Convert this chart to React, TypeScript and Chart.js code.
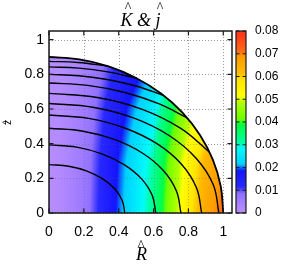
import React, { useEffect, useRef } from 'react';
import { Chart, registerables } from 'chart.js';

Chart.register(...registerables);

// ---------- data ----------
const xTicks = [0, 0.2, 0.4, 0.6, 0.8, 1];
const yTicks = [0, 0.2, 0.4, 0.6, 0.8, 1];
const cbTicks = [0, 0.01, 0.02, 0.03, 0.04, 0.05, 0.06, 0.07, 0.08];

const kR = [0, 0.1, 0.2, 0.3, 0.4, 0.5, 0.6, 0.7, 0.8, 0.9, 1.0];
const kZ = [0, 0.3, 0.6, 0.9];
const kAtZ00 = [0.0003, 0.003, 0.0065, 0.0125, 0.0198, 0.026, 0.0328, 0.045, 0.057, 0.066, 0.072];
const kAtZ03 = [0.0003, 0.0029, 0.0062, 0.0119, 0.0189, 0.0248, 0.0313, 0.043, 0.0544, 0.063, 0.0688];
const kAtZ06 = [0.0002, 0.0025, 0.0053, 0.0103, 0.0162, 0.0213, 0.0269, 0.0369, 0.0467, 0.0541, 0.059];
const kAtZ09 = [0.0002, 0.0018, 0.0039, 0.0074, 0.0118, 0.0155, 0.0195, 0.0268, 0.0339, 0.0393, 0.0428];

// surface boundary (R, z)
const boundary = [[0, 0.9], [0.174, 0.886], [0.342, 0.846], [0.5, 0.779], [0.643, 0.689], [0.766, 0.579], [0.866, 0.45], [0.94, 0.308], [0.985, 0.156], [1, 0]];

// j-hat contour lines (R, z)
const contour1 = [[0, 0.279], [0.113, 0.27], [0.218, 0.242], [0.308, 0.197], [0.377, 0.14], [0.42, 0.072], [0.435, 0]];
const contour2 = [[0, 0.393], [0.159, 0.38], [0.307, 0.34], [0.433, 0.278], [0.531, 0.197], [0.592, 0.102], [0.613, 0]];
const contour3 = [[0, 0.489], [0.196, 0.472], [0.379, 0.423], [0.535, 0.346], [0.656, 0.245], [0.731, 0.127], [0.757, 0]];
const contour4 = [[0, 0.565], [0.227, 0.546], [0.438, 0.489], [0.619, 0.4], [0.759, 0.283], [0.846, 0.146], [0.876, 0]];
const contour5 = [[0, 0.632], [0.252, 0.61], [0.488, 0.547], [0.689, 0.447], [0.844, 0.316], [0.942, 0.164], [0.975, 0]];
const contour6 = [[0, 0.69], [0.277, 0.666], [0.535, 0.598], [0.756, 0.488], [0.921, 0.351]];
const contour7 = [[0, 0.75], [0.222, 0.736], [0.435, 0.695], [0.633, 0.629], [0.793, 0.549]];
const contour8 = [[0, 0.8], [0.173, 0.792], [0.342, 0.769], [0.504, 0.731], [0.657, 0.678]];
const contour9 = [[0, 0.843], [0.171, 0.836], [0.338, 0.814], [0.502, 0.778]];
const contour10 = [[0, 0.875], [0.165, 0.868], [0.336, 0.848]];
const contours = [contour1, contour2, contour3, contour4, contour5, contour6, contour7, contour8, contour9, contour10];

// palette: colour at the bottom and top of each 0.01 band
const bandBottom = ['#b48cff', '#2828ff', '#00d0ff', '#00ff98', '#70ff00', '#ffff00', '#ffbc00', '#ff6818'];
const bandTop = ['#9070ff', '#1414ff', '#00fcf8', '#00ff44', '#b0ff00', '#ffe600', '#ff9c00', '#ff3818'];

// ---------- helpers ----------
function hexToRgb(h: string): number[] {
  const n = parseInt(h.slice(1), 16);
  return [(n >> 16) & 255, (n >> 8) & 255, n & 255];
}
const stops: { v: number; c: number[] }[] = [];
for (let i = 0; i < bandBottom.length; i++) {
  const lo = cbTicks[i];
  const hi = cbTicks[i + 1];
  stops.push({ v: lo + 0.15 * (hi - lo), c: hexToRgb(bandBottom[i]) });
  stops.push({ v: lo + 0.85 * (hi - lo), c: hexToRgb(bandTop[i]) });
}
function paletteRGB(v: number): number[] {
  if (v <= stops[0].v) return stops[0].c;
  const last = stops[stops.length - 1];
  if (v >= last.v) return last.c;
  for (let i = 0; i < stops.length - 1; i++) {
    const a = stops[i];
    const b = stops[i + 1];
    if (v <= b.v) {
      const t = (v - a.v) / (b.v - a.v);
      return [0, 1, 2].map((k) => Math.round(a.c[k] + (b.c[k] - a.c[k]) * t));
    }
  }
  return last.c;
}
const kRows = [kAtZ00, kAtZ03, kAtZ06, kAtZ09];
function findCell(arr: number[], v: number): [number, number] {
  const c = Math.min(Math.max(v, arr[0]), arr[arr.length - 1]);
  for (let i = 0; i < arr.length - 1; i++) {
    if (c <= arr[i + 1]) return [i, (c - arr[i]) / (arr[i + 1] - arr[i])];
  }
  return [arr.length - 2, 1];
}
function kAt(r: number, z: number): number {
  const [i, tr] = findCell(kR, r);
  const [j, tz] = findCell(kZ, z);
  const a = kRows[j][i] * (1 - tr) + kRows[j][i + 1] * tr;
  const b = kRows[j + 1][i] * (1 - tr) + kRows[j + 1][i + 1] * tr;
  return a * (1 - tz) + b * tz;
}

function drawGrid(chart: any, ctx: CanvasRenderingContext2D) {
  const ca = chart.chartArea;
  const xs = chart.scales.x;
  const ys = chart.scales.y;
  ctx.beginPath();
  xTicks.forEach((v) => {
    const p = Math.round(xs.getPixelForValue(v)) + 0.5;
    ctx.moveTo(p, ca.top);
    ctx.lineTo(p, ca.bottom);
  });
  yTicks.forEach((v) => {
    const p = Math.round(ys.getPixelForValue(v)) + 0.5;
    ctx.moveTo(ca.left, p);
    ctx.lineTo(ca.right, p);
  });
  ctx.stroke();
}

function clipBoundary(chart: any, ctx: CanvasRenderingContext2D) {
  const meta = chart.getDatasetMeta(0);
  const line: any = meta.dataset;
  const xs = chart.scales.x;
  const ys = chart.scales.y;
  ctx.beginPath();
  let ok = false;
  if (line && typeof line.path === 'function') {
    try {
      if (typeof line.updateControlPoints === 'function') line.updateControlPoints(chart.chartArea, 'x');
      line.path(ctx);
      ok = true;
    } catch (e) {
      ok = false;
    }
  }
  if (!ok) {
    ctx.beginPath();
    meta.data.forEach((p: any, i: number) => (i ? ctx.lineTo(p.x, p.y) : ctx.moveTo(p.x, p.y)));
  }
  ctx.lineTo(xs.getPixelForValue(0), ys.getPixelForValue(0));
  ctx.closePath();
  ctx.clip();
}

const heatPlugin = {
  id: 'heatmap',
  beforeDatasetsDraw(chart: any) {
    const { ctx, chartArea: ca } = chart;
    const xs = chart.scales.x;
    const ys = chart.scales.y;
    ctx.save();
    ctx.strokeStyle = '#9a9a9a';
    ctx.lineWidth = 1;
    ctx.setLineDash([1, 2]);
    drawGrid(chart, ctx);
    ctx.restore();

    const w = Math.ceil(ca.right - ca.left);
    const h = Math.ceil(ca.bottom - ca.top);
    const off = document.createElement('canvas');
    off.width = w;
    off.height = h;
    const octx = off.getContext('2d')!;
    const img = octx.createImageData(w, h);
    for (let py = 0; py < h; py++) {
      const z = ys.getValueForPixel(ca.top + py + 0.5);
      for (let px = 0; px < w; px++) {
        const r = xs.getValueForPixel(ca.left + px + 0.5);
        const c = paletteRGB(kAt(r, z));
        const o = (py * w + px) * 4;
        img.data[o] = c[0];
        img.data[o + 1] = c[1];
        img.data[o + 2] = c[2];
        img.data[o + 3] = 255;
      }
    }
    octx.putImageData(img, 0, 0);
    ctx.save();
    clipBoundary(chart, ctx);
    ctx.drawImage(off, ca.left, ca.top);
    ctx.strokeStyle = 'rgba(90,90,90,0.35)';
    ctx.lineWidth = 1;
    ctx.setLineDash([1, 2]);
    drawGrid(chart, ctx);
    ctx.restore();
  },
  afterDatasetsDraw(chart: any) {
    const { ctx, chartArea: ca } = chart;
    const xs = chart.scales.x;
    const ys = chart.scales.y;
    const cs = chart.scales.cb;
    ctx.save();
    // frame
    ctx.strokeStyle = '#1a1a1a';
    ctx.lineWidth = 1.5;
    ctx.strokeRect(ca.left, ca.top, ca.right - ca.left, ca.bottom - ca.top);
    // inward ticks
    ctx.lineWidth = 1.2;
    ctx.beginPath();
    const tl = 4.5;
    xTicks.forEach((v) => {
      const p = xs.getPixelForValue(v);
      ctx.moveTo(p, ca.bottom);
      ctx.lineTo(p, ca.bottom - tl);
      ctx.moveTo(p, ca.top);
      ctx.lineTo(p, ca.top + tl);
    });
    yTicks.forEach((v) => {
      const p = ys.getPixelForValue(v);
      ctx.moveTo(ca.left, p);
      ctx.lineTo(ca.left + tl, p);
      ctx.moveTo(ca.right, p);
      ctx.lineTo(ca.right - tl, p);
    });
    ctx.stroke();

    // colour box
    const bx = ca.right + 4;
    const bw = 10;
    const top = Math.round(cs.getPixelForValue(cbTicks[cbTicks.length - 1]));
    const bot = Math.round(cs.getPixelForValue(cbTicks[0]));
    for (let py = top; py < bot; py++) {
      const c = paletteRGB(cs.getValueForPixel(py + 0.5));
      ctx.fillStyle = `rgb(${c[0]},${c[1]},${c[2]})`;
      ctx.fillRect(bx, py, bw, 1);
    }
    ctx.lineWidth = 1.2;
    ctx.strokeStyle = '#1a1a1a';
    ctx.strokeRect(bx, top, bw, bot - top);
    ctx.beginPath();
    cbTicks.forEach((v) => {
      const p = cs.getPixelForValue(v);
      ctx.moveTo(bx, p);
      ctx.lineTo(bx + 3.5, p);
      ctx.moveTo(bx + bw, p);
      ctx.lineTo(bx + bw - 3.5, p);
    });
    ctx.stroke();

    // titles
    ctx.fillStyle = '#000';
    ctx.textBaseline = 'alphabetic';
    const cx = (ca.left + ca.right) / 2;
    ctx.font = 'italic 18px "Liberation Serif"';
    const title = 'K & j';
    const tw = ctx.measureText(title).width;
    const x0 = cx - tw / 2;
    ctx.textAlign = 'left';
    ctx.fillText(title, x0, 26);
    const wK = ctx.measureText('K').width;
    const wPre = ctx.measureText('K & ').width;
    const wj = ctx.measureText('j').width;
    ctx.font = '14px "Liberation Serif"';
    ctx.textAlign = 'center';
    ctx.fillText('^', x0 + wK / 2 + 1.5, 12);
    ctx.fillText('^', x0 + wPre + wj / 2 + 2, 12);

    // x title
    ctx.font = 'italic 18px "Liberation Serif"';
    ctx.fillText('R', cx + 1, 260);
    ctx.font = '14px "Liberation Serif"';
    ctx.fillText('^', cx + 0.5, 249.5);

    // y title
    ctx.save();
    ctx.translate(10.5, 122.5);
    ctx.rotate(-Math.PI / 2);
    ctx.font = '10px "Liberation Sans"';
    ctx.fillText('z', 0, 0);
    ctx.font = '9px "Liberation Sans"';
    ctx.fillText('^', 0, -2);
    ctx.restore();
    ctx.restore();
  },
};

const fmt = (v: number | string) => String(v);

export default function App() {
  const ref = useRef<HTMLCanvasElement | null>(null);
  useEffect(() => {
    if (!ref.current) return;
    const datasets = [boundary, ...contours].map((pts, i) => ({
      data: pts.map(([x, y]) => ({ x, y })),
      showLine: true,
      pointRadius: 0,
      borderColor: '#000',
      borderWidth: i === 0 ? 1.8 : 1.4,
      tension: 0.4,
      fill: false,
    }));
    const chart = new Chart(ref.current, {
      type: 'scatter',
      data: { datasets },
      options: {
        animation: false,
        responsive: false,
        devicePixelRatio: 1,
        events: [],
        layout: { padding: { top: 31, left: 0, right: 0, bottom: 0 } },
        plugins: { legend: { display: false }, tooltip: { enabled: false }, title: { display: false } },
        scales: {
          x: {
            type: 'linear',
            position: 'bottom',
            min: 0,
            max: 1.05,
            afterBuildTicks: (s: any) => {
              s.ticks = xTicks.map((value) => ({ value }));
            },
            afterFit: (s: any) => {
              s.height = 58;
            },
            grid: { display: false, drawTicks: false },
            border: { display: false },
            ticks: { color: '#000', font: { family: 'Liberation Sans', size: 14 }, padding: 11, maxRotation: 0, callback: fmt },
          },
          y: {
            type: 'linear',
            position: 'left',
            min: 0,
            max: 1.05,
            afterBuildTicks: (s: any) => {
              s.ticks = yTicks.map((value) => ({ value }));
            },
            afterFit: (s: any) => {
              s.width = 49;
            },
            grid: { display: false, drawTicks: false },
            border: { display: false },
            ticks: { color: '#000', font: { family: 'Liberation Sans', size: 14 }, padding: 5, callback: fmt },
          },
          cb: {
            type: 'linear',
            position: 'right',
            display: true,
            min: 0,
            max: 0.08,
            afterBuildTicks: (s: any) => {
              s.ticks = cbTicks.map((value) => ({ value }));
            },
            afterFit: (s: any) => {
              s.width = 62;
            },
            grid: { display: false, drawTicks: false },
            border: { display: false },
            ticks: { color: '#000', font: { family: 'Liberation Sans', size: 12 }, padding: 23, callback: fmt },
          },
        },
      } as any,
      plugins: [heatPlugin],
    });
    return () => chart.destroy();
  }, []);
  return (
    <div style={{ position: 'absolute', left: 0, top: 0, width: 294, height: 271 }}>
      <canvas ref={ref} width={294} height={271} style={{ display: 'block' }} />
    </div>
  );
}
